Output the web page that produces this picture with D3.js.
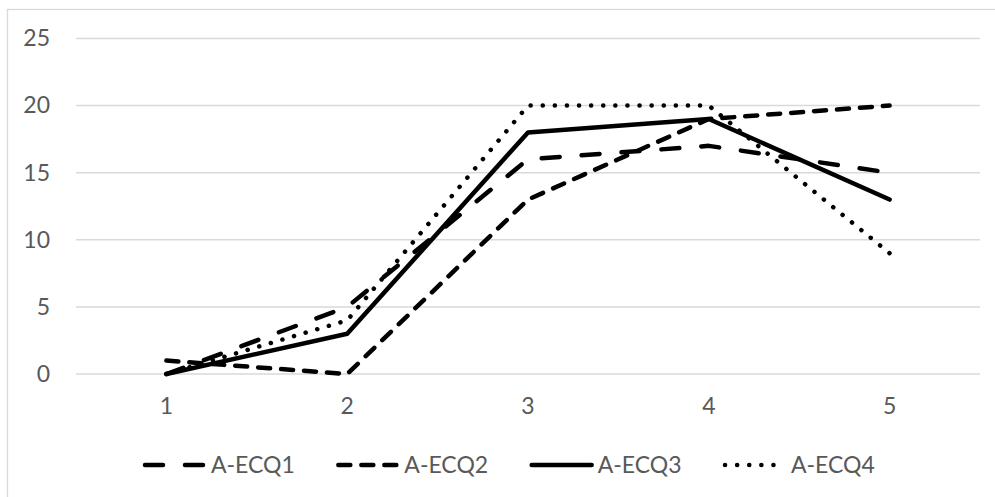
<!DOCTYPE html>
<html>
<head>
<meta charset="utf-8">
<script src="https://cdn.jsdelivr.net/npm/d3@7"></script>
<style>
    body { margin: 0; background: #fff; }
    text { font-family: Lato, "Liberation Sans", sans-serif; fill: #595959; }
</style>
</head>
<body>
<div id="viz"></div>
<script>
// line chart, four A-ECQ series over 5 categories

const categories = [1, 2, 3, 4, 5];
const yTicks = [0, 5, 10, 15, 20, 25];
const seriesNames = ["A-ECQ1", "A-ECQ2", "A-ECQ3", "A-ECQ4"];
const ecq1 = [0, 5, 16, 17, 15];
const ecq2 = [1, 0, 13, 19, 20];
const ecq3 = [0, 3, 18, 19, 13];
const ecq4 = [0, 4, 20, 20, 9];

// dash pattern for each series, same order as seriesNames
const dashes = ["18,22", "12,11", null, "0.1,12"];

function drawChart() {
    const dataset = [ecq1, ecq2, ecq3, ecq4].map((vals, i) => ({
        name: seriesNames[i],
        dash: dashes[i],
        values: vals.map((v, j) => ({ cat: categories[j], val: v }))
    }));

    var dimensions = {
        width: 995,
        height: 497,
        margins: { left: 76, right: 15, top: 38.5, bottom: 123 }
    }
    dimensions.boundedWidth = dimensions.width - dimensions.margins.left - dimensions.margins.right;
    dimensions.boundedHeight = dimensions.height - dimensions.margins.top - dimensions.margins.bottom;

    const viz = d3.select('#viz').append('svg')
        .attr('width', dimensions.width)
        .attr('height', dimensions.height)

    // chart frame
    viz.append('rect')
        .attr('x', 7.5)
        .attr('y', 9.5)
        .attr('width', 1000)
        .attr('height', 520)
        .attr('fill', 'none')
        .attr('stroke', '#d9d9d9')
        .attr('stroke-width', 1.3)

    const bounds = viz.append('g')
        .attr('transform', `translate(${dimensions.margins.left}, ${dimensions.margins.top})`);

    const xScale = d3.scaleBand()
        .domain(categories)
        .range([0, dimensions.boundedWidth])

    const yScale = d3.scaleLinear()
        .domain([0, 25])
        .range([dimensions.boundedHeight, 0])

    // gridlines
    bounds.selectAll('.grid')
        .data(yTicks)
        .enter()
        .append('line')
            .attr('x1', 0)
            .attr('x2', dimensions.boundedWidth)
            .attr('y1', d => yScale(d))
            .attr('y2', d => yScale(d))
            .attr('stroke', '#d9d9d9')
            .attr('stroke-width', 1.5)

    const yAxis = bounds.append('g')
        .call(d3.axisLeft(yScale).tickValues(yTicks).tickSize(0).tickPadding(26))
    yAxis.select('.domain').remove()
    yAxis.selectAll('text').style('font-size', '23px').attr('fill', null)

    const xAxis = bounds.append('g')
        .attr('transform', `translate(0, ${dimensions.boundedHeight})`)
        .call(d3.axisBottom(xScale).tickSize(0).tickPadding(24))
    xAxis.select('.domain').remove()
    xAxis.selectAll('text').style('font-size', '23px').attr('fill', null)

    const line = d3.line()
        .x(d => xScale(d.cat) + xScale.bandwidth() / 2)
        .y(d => yScale(d.val))

    bounds.selectAll('.series')
        .data(dataset)
        .enter()
        .append('path')
            .attr('d', d => line(d.values))
            .attr('fill', 'none')
            .attr('stroke', '#000')
            .attr('stroke-width', 4.5)
            .attr('stroke-linecap', 'round')
            .attr('stroke-linejoin', 'round')
            .attr('stroke-dasharray', d => d.dash)

    // legend along the bottom
    const legendX = d3.scalePoint()
        .domain(seriesNames)
        .range([143, 723])

    const legend = viz.append('g')
        .attr('transform', 'translate(0, 465)')

    const items = legend.selectAll('g')
        .data(dataset)
        .enter()
        .append('g')
            .attr('transform', d => `translate(${legendX(d.name)}, 0)`)

    items.append('line')
        .attr('x1', 2)
        .attr('x2', 62)
        .attr('stroke', '#000')
        .attr('stroke-width', 4.5)
        .attr('stroke-linecap', 'round')
        .attr('stroke-dasharray', d => d.dash)

    items.append('text')
        .attr('x', 68)
        .attr('dy', '0.35em')
        .style('font-size', '23px')
        .text(d => d.name)
}

drawChart();
</script>
</body>
</html>
